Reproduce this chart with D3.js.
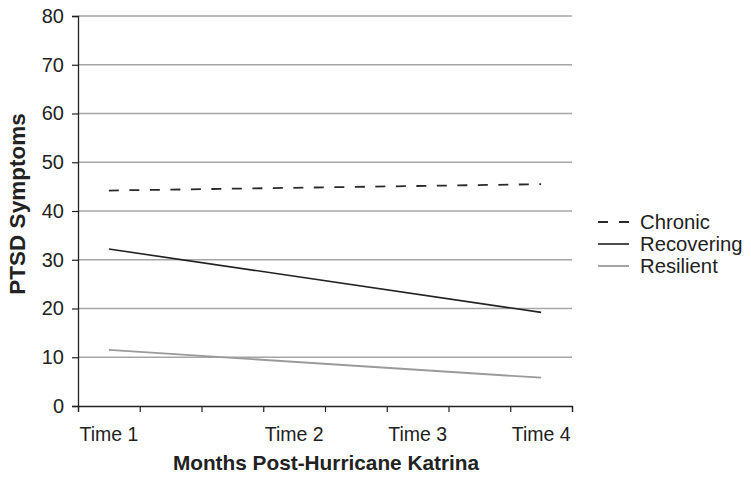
<!DOCTYPE html>
<html><head><meta charset="utf-8">
<script src="https://cdn.jsdelivr.net/npm/d3@7"></script>
<style>body{margin:0;background:#fff}svg{display:block}text{font-family:"Liberation Sans",Arial,sans-serif;fill:#222}</style>
</head><body><svg id="c" width="751" height="477"></svg>
<script>
const timeLabels = ["Time 1","Time 2","Time 3","Time 4"];
const timePositions = [0.5, 3.5, 5.5, 7.5];
const yTicks = [0,10,20,30,40,50,60,70,80];
const seriesNames = ["Chronic","Recovering","Resilient"];
const chronic = [44.2, 45.5];
const recovering = [32.2, 19.2];
const resilient = [11.5, 5.8];
const seriesX = [0.5, 7.5];

const svg = d3.select("#c");
const x = d3.scaleLinear().domain([0,8]).range([78,572]);
const y = d3.scaleLinear().domain([0,80]).range([406,16]);

// gridlines
svg.append("g").selectAll("line").data(yTicks.filter(d=>d>0)).join("line")
  .attr("x1",78).attr("x2",572).attr("y1",d=>y(d)).attr("y2",d=>y(d))
  .attr("stroke","#a6a6a6").attr("stroke-width",1.6);

// y axis
const ya = svg.append("g").attr("transform","translate(78,0)")
  .call(d3.axisLeft(y).tickValues(yTicks).tickSize(6).tickPadding(8));
ya.select(".domain").attr("stroke","#222").attr("stroke-width",1.3);
ya.selectAll(".tick line").attr("stroke","#222").attr("stroke-width",1.2);
ya.selectAll(".tick text").style("font-size","20px").style("font-family","Liberation Sans, Arial, sans-serif").attr("fill","#222");

// x axis
const xa = svg.append("g").attr("transform","translate(0,406)")
  .call(d3.axisBottom(x).tickValues(d3.range(0,9)).tickSize(6).tickFormat(""));
xa.select(".domain").attr("stroke","#222").attr("stroke-width",1.3);
xa.selectAll(".tick line").attr("stroke","#222").attr("stroke-width",1.2);
svg.append("g").selectAll("text").data(timeLabels).join("text")
  .attr("x",(d,i)=>x(timePositions[i])).attr("y",441).attr("text-anchor","middle")
  .style("font-size","19.5px").text(d=>d);

// titles
svg.append("text").attr("x",326).attr("y",470).attr("text-anchor","middle")
  .style("font-size","20.8px").style("font-weight","bold").text("Months Post-Hurricane Katrina");
svg.append("text").attr("transform","translate(25,204) rotate(-90)").attr("text-anchor","middle")
  .style("font-size","22.5px").style("font-weight","bold").text("PTSD Symptoms");

// lines
const styles = [
  {data:chronic, color:"#2a2a2a", dash:"10,10.5", w:1.8},
  {data:recovering, color:"#222", dash:null, w:1.6},
  {data:resilient, color:"#9a9a9a", dash:null, w:1.8}
];
const line = d3.line().x((d,i)=>x(seriesX[i])).y(d=>y(d));
styles.forEach(s=>{
  svg.append("path").attr("d",line(s.data)).attr("fill","none")
    .attr("stroke",s.color).attr("stroke-width",s.w).attr("stroke-dasharray",s.dash);
});

// legend
const lg = svg.append("g");
seriesNames.forEach((n,i)=>{
  const yy = 222 + i*22;
  lg.append("line").attr("x1",598).attr("x2",629).attr("y1",yy).attr("y2",yy)
    .attr("stroke",styles[i].color).attr("stroke-width",styles[i].w)
    .attr("stroke-dasharray",i===0?"10,11":null);
  lg.append("text").attr("x",640).attr("y",yy+7).style("font-size","20.3px").text(n);
});
</script></body></html>
